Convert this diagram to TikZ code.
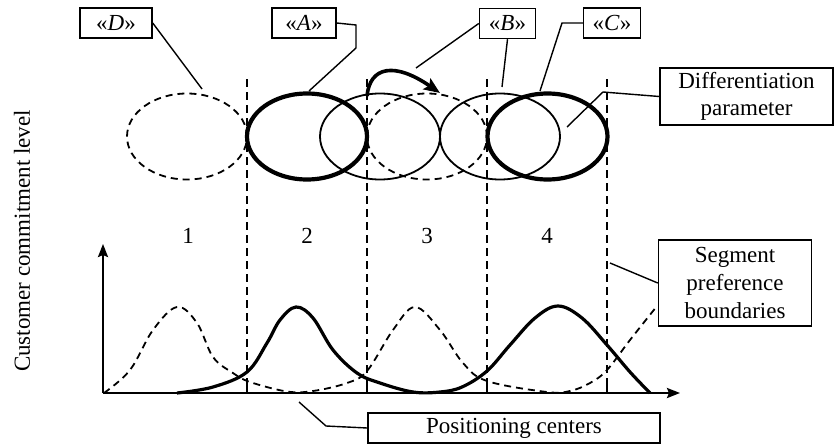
\documentclass[tikz,border=0pt]{standalone}
\usepackage{fontspec}
\setmainfont{Liberation Serif}
\usetikzlibrary{shapes.geometric,arrows.meta}
\tikzset{
  lbl/.style={draw,line width=1.5pt,inner sep=0pt,minimum height=30pt,font=\fontsize{23}{27.6}\selectfont},
  bigbox/.style={draw,line width=1.5pt,inner sep=0pt,align=center,font=\fontsize{23}{27.6}\selectfont},
  conn/.style={line width=1.4pt},
  ell/.style={ellipse,minimum width=120pt,minimum height=86pt,inner sep=0pt},
  thinell/.style={ell,draw,line width=1.8pt},
  thickell/.style={ell,draw,line width=4.2pt},
  dashell/.style={ell,draw,line width=1.8pt,dash pattern=on 7pt off 5pt},
  bound/.style={line width=1.7pt,dash pattern=on 8pt off 5pt},
  axis/.style={line width=2.4pt,-{Stealth[length=13pt,width=10pt,inset=2pt]}},
  num/.style={font=\fontsize{23}{27.6}\selectfont},
}
\begin{document}
\begin{tikzpicture}[x=1pt,y=-1pt]
\useasboundingbox (0,0) rectangle (835,444);

% boundaries
\foreach \x/\n in {247/b1,367/b2,487/b3,607/b4}{
  \coordinate (\n t) at (\x,79);
  \coordinate (\n b) at (\x,393);
  \draw[bound] (\n t) -- (\n b);
  \draw[line width=1.7pt] (\x,385) -- (\n b);
}

% ellipses
\node[dashell] (eD) at (187,136.5) {};
\node[dashell] (eB2) at (427,136.5) {};
\node[thinell] (eA2) at (380,136.5) {};
\node[thinell] (eC2) at (500,136.5) {};
\node[thickell] (eA) at (307,136.5) {};
\node[thickell] (eC) at (547.5,136.5) {};

% curved arrow
\coordinate (arS) at (367,96);
\coordinate (arE) at (440,93);
\draw[line width=3.6pt,-{Stealth[length=16pt,width=13pt,inset=3pt]}] (arS) .. controls (370,66) and (395,62) .. (arE);

% label boxes
\node[lbl,minimum width=72pt] (Dbox) at (116,23) {«\textit{D}»};
\node[lbl,minimum width=64pt] (Abox) at (304,23) {«\textit{A}»};
\node[lbl,minimum width=56pt] (Bbox) at (507.5,23.5) {«\textit{B}»};
\node[lbl,minimum width=57pt] (Cbox) at (612,23) {«\textit{C}»};
\node[bigbox,minimum width=173pt,minimum height=57pt] (Dif) at (746.5,96.5) {Differentiation\\parameter};
\node[bigbox,minimum width=153pt,minimum height=86pt] (Seg) at (735,283) {Segment\\preference\\boundaries};
\node[bigbox,minimum width=292pt,minimum height=30pt] (Pos) at (514,428) {Positioning centers};

% connector end points
\coordinate (dEnd) at (202,89);
\coordinate (aEnd) at (309,91);
\coordinate (bEnd1) at (416,68);
\coordinate (bEnd2) at (502,87);
\coordinate (cEnd) at (540,91);
\coordinate (difEnd) at (567,127);
\coordinate (segEnd) at (610,263);
\coordinate (posEnd) at (299,402);

\draw[conn] (Dbox.east) -- (dEnd);
\draw[conn] (Abox.east) -- (356,25) -- (356,48) -- (aEnd);
\draw[conn] (Bbox.west) -- (bEnd1);
\draw[conn] (Bbox.south) -- (bEnd2);
\draw[conn] (Cbox.west) -- (562,23) -- (cEnd);
\draw[conn] (Dif.west) -- (603,92) -- (difEnd);
\draw[conn] (Seg.west) -- (segEnd);
\draw[conn] (Pos.west) -- (326,426) -- (posEnd);

% numbers
\node[num] (n1) at (188,236) {1};
\node[num] (n2) at (307,236) {2};
\node[num] (n3) at (427,236) {3};
\node[num] (n4) at (547,236) {4};

% axes
\coordinate (O) at (103,393);
\coordinate (Ytop) at (103,244);
\coordinate (Xend) at (680,393);
\draw[axis] (O) -- (Ytop);
\draw[axis] (O) -- (Xend);

\node[num,rotate=90] (ylab) at (22,241) {Customer commitment level};

% curves
\draw[line width=3.2pt,line join=round] plot[smooth,tension=0.6] coordinates {
 (177,393) (213,387) (247,372) (267,343) (280,320) (296,307) (313,318) (333,350) (357,373)
 (380,383) (413,392) (440,392) (462,387) (487,371) (510,345) (535,318) (558,306)
 (582,318) (607,345) (630,372) (650,393)};
\draw[line width=1.8pt,dash pattern=on 7pt off 5pt] plot[smooth,tension=0.6] coordinates {
 (104,393) (130,370) (153,330) (177,307) (197,323) (213,357) (233,373) (250,382) (287,391.5)
 (313,391) (347,383) (367,371) (393,330) (415,307) (440,330) (463,363) (487,381)
 (547,392) (570,391) (590,383) (607,370) (630,340) (657,306)};
\end{tikzpicture}
\end{document}
